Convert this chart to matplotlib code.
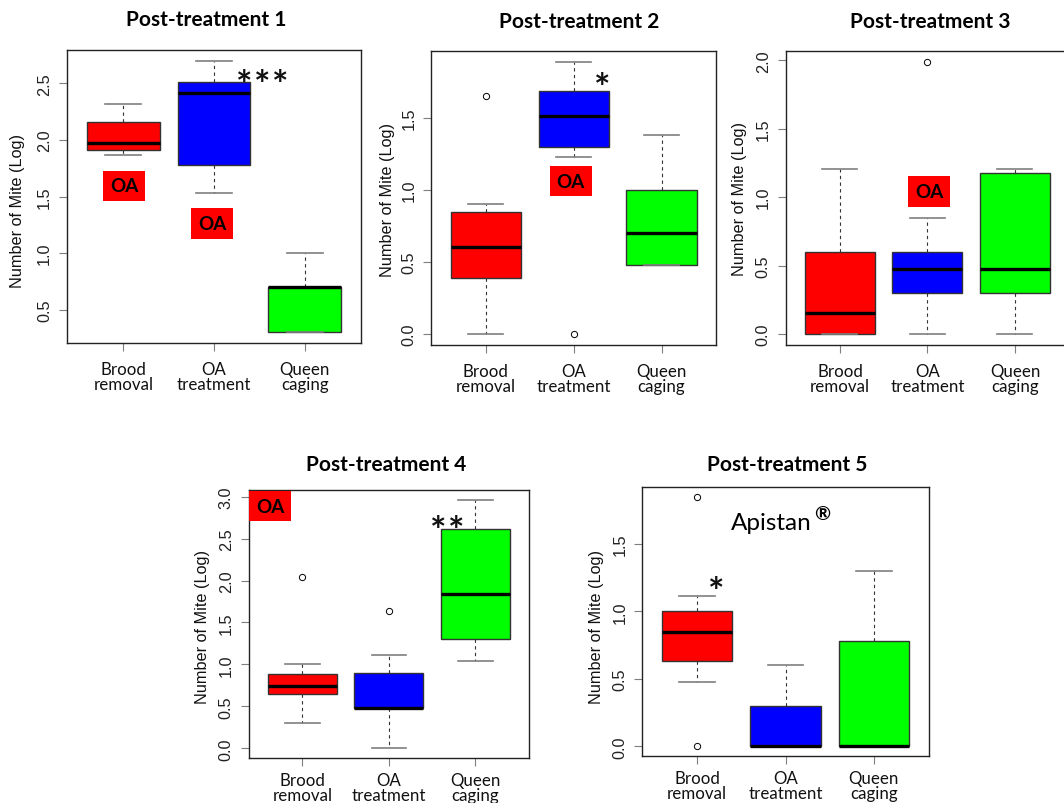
import matplotlib
matplotlib.use("Agg")
import matplotlib.pyplot as plt
from matplotlib.ticker import MultipleLocator, FormatStrFormatter

# ---------------- data ----------------
categories = ["Brood\nremoval", "OA\ntreatment", "Queen\ncaging"]
titles = ["Post-treatment 1", "Post-treatment 2", "Post-treatment 3",
          "Post-treatment 4", "Post-treatment 5"]
box_colors = ["#FF0000", "#0000FF", "#00FF00"]

p1_whislo = [1.865, 1.53, 0.301]
p1_q1 = [1.91, 1.776, 0.301]
p1_med = [1.97, 2.42, 0.70]
p1_q3 = [2.156, 2.51, 0.70]
p1_whishi = [2.32, 2.70, 1.0]
p1_fliers = [[], [], []]

p2_whislo = [0.0, 1.23, 0.477]
p2_q1 = [0.389, 1.30, 0.477]
p2_med = [0.602, 1.514, 0.699]
p2_q3 = [0.845, 1.69, 1.0]
p2_whishi = [0.903, 1.892, 1.38]
p2_fliers = [[1.653], [0.0], []]

p3_whislo = [0.0, 0.0, 0.0]
p3_q1 = [0.0, 0.301, 0.301]
p3_med = [0.153, 0.477, 0.477]
p3_q3 = [0.602, 0.602, 1.176]
p3_whishi = [1.204, 0.845, 1.204]
p3_fliers = [[], [1.99], []]

p4_whislo = [0.30, 0.0, 1.04]
p4_q1 = [0.65, 0.477, 1.30]
p4_med = [0.745, 0.477, 1.84]
p4_q3 = [0.89, 0.903, 2.62]
p4_whishi = [1.0, 1.114, 2.964]
p4_fliers = [[2.04], [1.633], []]

p5_whislo = [0.477, 0.0, 0.0]
p5_q1 = [0.63, 0.0, 0.0]
p5_med = [0.845, 0.0, 0.0]
p5_q3 = [1.0, 0.301, 0.778]
p5_whishi = [1.114, 0.602, 1.301]
p5_fliers = [[1.845, 0.0], [], []]

ylabel = "Number of Mite (Log)"
stars = ["***", "*", "", "**", "*"]

panels = [
    (p1_whislo, p1_q1, p1_med, p1_q3, p1_whishi, p1_fliers),
    (p2_whislo, p2_q1, p2_med, p2_q3, p2_whishi, p2_fliers),
    (p3_whislo, p3_q1, p3_med, p3_q3, p3_whishi, p3_fliers),
    (p4_whislo, p4_q1, p4_med, p4_q3, p4_whishi, p4_fliers),
    (p5_whislo, p5_q1, p5_med, p5_q3, p5_whishi, p5_fliers),
]

# ---------------- layout (pixels) ----------------
W, H = 1064, 804
axes_px = [  # left, top, right, bottom
    (67, 51, 361, 344),
    (431.3, 51.7, 716, 346),
    (785.7, 51.7, 1069.2, 346),
    (248.7, 490.7, 529, 759.3),
    (642.3, 488.3, 928.7, 757.3),
]
title_px = [(205.8, 20), (579, 22.5), (930, 21.5), (385.7, 465), (787.2, 465)]
xlab_pad = [7.5, 7.5, 7.5, 4.0, 4.0]
ylabel_off = [42, 36, 38.4, 38.7, 38.3]
ylabel_center_px = [210.8, 200.5, 198.8, 627, 627]
star_pos = [(2.53, 2.58), (2.33, 1.78), None, (2.67, 2.72), (1.22, 1.224)]
oa_pos = [[(1.008, 1.595), (1.979, 1.26)], [(1.967, 1.0625)], [(2.02, 1.042)],
          [(0.625, 2.887)], []]

fig = plt.figure(figsize=(W / 100, H / 100), dpi=100)

sans = ["Liberation Sans", "DejaVu Sans"]
calib = ["Lato", "DejaVu Sans"]
STAR_FS = 28
STAR_PITCH = 13.0  # points between asterisk centres

for i, (wl, q1, md, q3, wh, fl) in enumerate(panels):
    l, t, r, b = axes_px[i]
    ax = fig.add_axes([l / W, 1 - b / H, (r - l) / W, (b - t) / H])
    stats = []
    for k in range(3):
        stats.append(dict(whislo=wl[k], q1=q1[k], med=md[k], q3=q3[k],
                          whishi=wh[k], fliers=fl[k], label=categories[k]))
    bp = ax.bxp(stats, positions=[1, 2, 3], widths=0.8, capwidths=0.4,
                patch_artist=True, showfliers=True,
                boxprops=dict(edgecolor="#333333", linewidth=1.0),
                medianprops=dict(color="black", linewidth=2.4, solid_capstyle="butt"),
                whiskerprops=dict(color="#333333", linewidth=0.8, linestyle=(0, (3, 3))),
                capprops=dict(color="#7f7f7f", linewidth=1.2),
                flierprops=dict(marker="o", markerfacecolor="none",
                                markeredgecolor="black", markersize=4.5,
                                markeredgewidth=0.7))
    for patch, c in zip(bp["boxes"], box_colors):
        patch.set_facecolor(c)

    allv = wl + wh + [v for f in fl for v in f]
    lo, hi = min(allv), max(allv)
    pad = 0.04 * (hi - lo)
    ax.set_ylim(lo - pad, hi + pad)
    ax.set_xlim(0.38, 3.62)
    ax.yaxis.set_major_locator(MultipleLocator(0.5))
    ax.yaxis.set_major_formatter(FormatStrFormatter("%.1f"))

    for s in ax.spines.values():
        s.set_color("#222222")
        s.set_linewidth(1.0)
    ax.tick_params(axis="both", direction="out", length=5.8, width=0.8,
                   color="#7f7f7f")
    ax.tick_params(axis="y", labelsize=11.7, pad=5)
    ax.tick_params(axis="x", pad=xlab_pad[i])
    for lab in ax.get_yticklabels():
        lab.set_rotation(90)
        lab.set_va("center")
        lab.set_family(sans)
        lab.set_color("#222222")
    ax.set_xticks([1, 2, 3])
    ax.set_xticklabels(categories, family=calib, fontsize=12.2,
                       linespacing=0.92, color="#111111")

    ax.set_ylabel(ylabel, family=sans, fontsize=11.7, color="#111111")
    ax.yaxis.set_label_coords(-ylabel_off[i] / (r - l),
                              (b - ylabel_center_px[i]) / (b - t))

    tx, ty = title_px[i]
    fig.text(tx / W, 1 - ty / H, titles[i], ha="center", va="center",
             family=calib, fontweight="bold", fontsize=15.0)

    if star_pos[i] is not None:
        sx, sy = star_pos[i]
        n = len(stars[i])
        for j, ch in enumerate(stars[i]):
            dx = (j - (n - 1) / 2) * STAR_PITCH
            ax.annotate(ch, (sx, sy), xytext=(dx, -0.58 * STAR_FS),
                        textcoords="offset points", ha="center",
                        va="baseline", family=calib, fontweight="bold",
                        fontsize=STAR_FS, color="#111111")
    for (ox, oy) in oa_pos[i]:
        ax.text(ox, oy, "OA", ha="center", va="center", family=calib,
                fontweight="bold", fontsize=13.5, color="black",
                bbox=dict(boxstyle="square,pad=0.36", facecolor="#FF0000",
                          edgecolor="none"))
    if i == 4:
        ax.text(2.30, 1.657, "Apistan", ha="right", va="center",
                family=calib, fontsize=17.5, color="black")
        ax.text(2.325, 1.725, "\u00ae", ha="left", va="center",
                family=calib, fontsize=14, fontweight="bold", color="black")

fig.savefig("out.png", dpi=100)
